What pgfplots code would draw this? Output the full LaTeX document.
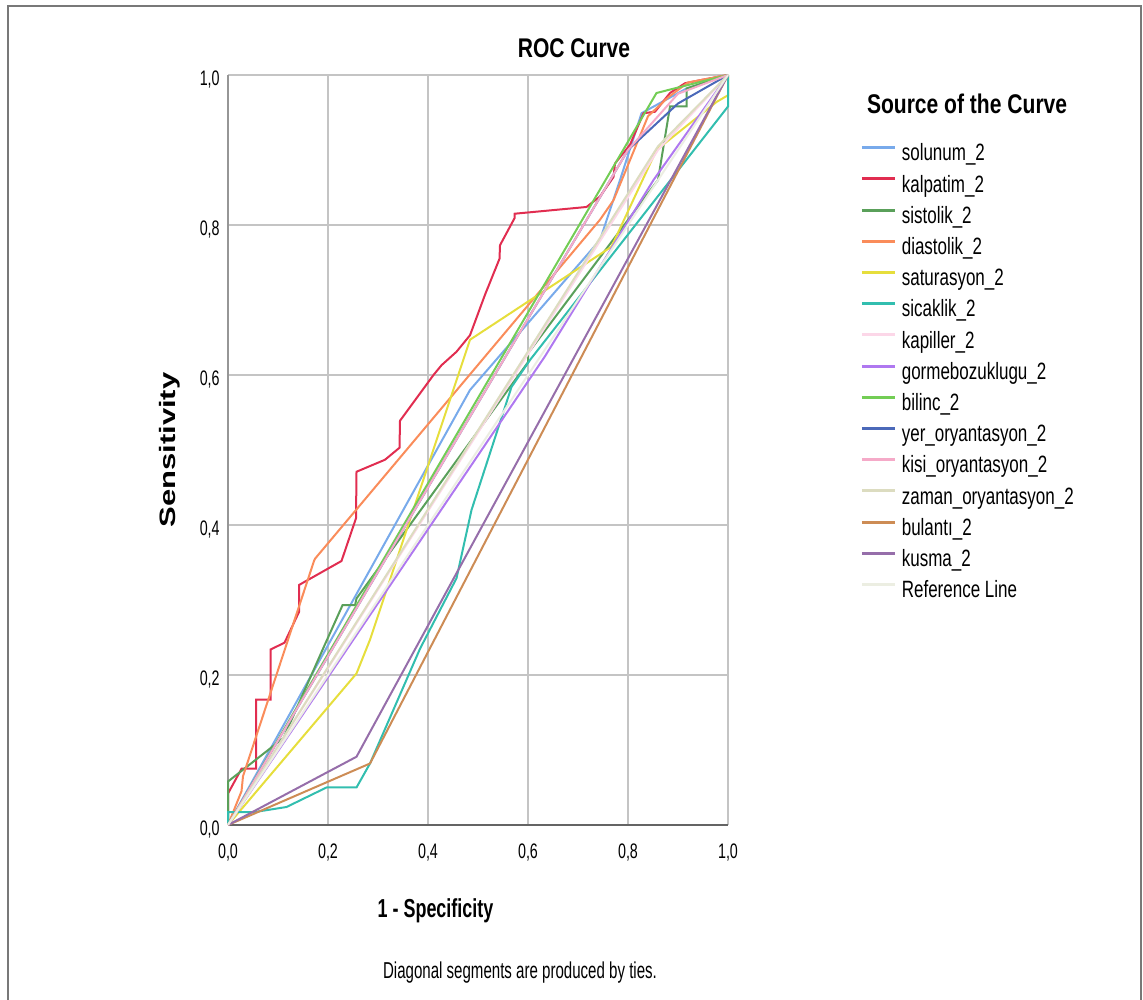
\documentclass[border=0pt]{standalone}
\usepackage{pgfplots}
\pgfplotsset{compat=1.18}
\usepackage{fontspec}
\setmainfont{Liberation Sans}
\usepackage{graphicx}
\newcommand\sq[2]{\scalebox{#1}[1]{#2}}
\newcommand\tl[1]{\scalebox{0.68}[1]{\fontsize{10.5}{12}\selectfont #1}}
\newcommand\lgd[1]{\scalebox{0.72}[1]{#1}}
\definecolor{cSol}{RGB}{120,170,235}
\definecolor{cKal}{RGB}{225,45,80}
\definecolor{cSis}{RGB}{90,160,90}
\definecolor{cDia}{RGB}{250,140,90}
\definecolor{cSat}{RGB}{230,222,60}
\definecolor{cSic}{RGB}{50,190,175}
\definecolor{cKap}{RGB}{252,215,232}
\definecolor{cGor}{RGB}{175,120,240}
\definecolor{cBil}{RGB}{115,205,85}
\definecolor{cYer}{RGB}{75,105,185}
\definecolor{cKis}{RGB}{245,170,200}
\definecolor{cZam}{RGB}{220,220,192}
\definecolor{cBul}{RGB}{205,140,85}
\definecolor{cKus}{RGB}{150,110,170}
\definecolor{cRef}{RGB}{236,238,226}
\definecolor{cGrid}{RGB}{196,196,196}
\begin{document}
\begin{tikzpicture}
\useasboundingbox (0,0) rectangle (571.5pt,499.5pt);
\draw[color={rgb,255:red,120;green,120;blue,120}, line width=0.8pt] (4pt,-10pt) -- (4pt,496.5pt) -- (570.6pt,496.5pt) -- (570.6pt,-10pt);
\begin{axis}[
  at={(114pt,87pt)}, anchor=south west, scale only axis,
  width=250pt, height=375pt,
  xmin=0, xmax=1, ymin=0, ymax=1, clip=false,
  axis x line=bottom, axis y line=left,
  x axis line style={-, draw={rgb,255:red,100;green,100;blue,100}, line width=1pt},
  y axis line style={-, draw={rgb,255:red,150;green,150;blue,150}, line width=0.8pt},
  grid=major, major grid style={draw=cGrid, line width=1pt},
  major tick length=0pt,
  xtick={0,0.2,0.4,0.6,0.8,1}, ytick={0,0.2,0.4,0.6,0.8,1},
  xticklabels={{\tl{0,0}},{\tl{0,2}},{\tl{0,4}},{\tl{0,6}},{\tl{0,8}},{\tl{1,0}}},
  yticklabels={{\tl{0,0}},{\tl{0,2}},{\tl{0,4}},{\tl{0,6}},{\tl{0,8}},{\tl{1,0}}},
  xticklabel style={anchor=north, inner sep=0pt, yshift=-9pt},
  yticklabel style={anchor=east, inner sep=0pt, xshift=-4pt, yshift=-2.5pt},
  every axis plot/.append style={line width=1pt},
  legend style={at={(1.264,0.909)}, anchor=north west, draw=none, fill=none,
    inner sep=0pt, row sep=4.6pt, column sep=2.5pt,
    font=\fontsize{11.8}{14}\selectfont,
    nodes={inner sep=0pt, text height=8.6pt, text depth=2.4pt}},
  legend cell align=left,
  legend image code/.code={\draw[#1, line width=1.5pt] (0pt,3.5pt) -- (16.7pt,3.5pt);},
]
\addplot[cSol] coordinates {(0,0) (0.484,0.58) (0.744,0.78) (0.784,0.86) (0.827,0.949) (0.917,0.982) (1,1)};
\addlegendentry{\lgd{solunum\_2}}
\addplot[cKal] coordinates {(0,0) (0,0.042) (0.027,0.075) (0.056,0.075) (0.056,0.167) (0.085,0.167) (0.085,0.234) (0.113,0.243) (0.142,0.284) (0.142,0.32) (0.227,0.352) (0.256,0.409) (0.257,0.471) (0.314,0.487) (0.343,0.503) (0.344,0.539) (0.411,0.6) (0.427,0.613) (0.457,0.631) (0.484,0.653) (0.514,0.707) (0.543,0.755) (0.544,0.773) (0.573,0.809) (0.573,0.815) (0.717,0.824) (0.744,0.838) (0.771,0.864) (0.774,0.882) (0.804,0.907) (0.831,0.949) (0.854,0.951) (0.884,0.976) (0.914,0.989) (0.944,0.993) (1,1)};
\addlegendentry{\lgd{kalpatim\_2}}
\addplot[cSis] coordinates {(0,0) (0,0.058) (0.111,0.116) (0.19,0.235) (0.229,0.293) (0.254,0.293) (0.257,0.302) (0.6,0.617) (0.6,0.629) (0.86,0.86) (0.884,0.958) (0.917,0.958) (0.917,0.982) (1,1)};
\addlegendentry{\lgd{sistolik\_2}}
\addplot[cDia] coordinates {(0,0) (0.027,0.045) (0.03,0.065) (0.172,0.352) (0.174,0.355) (0.744,0.807) (0.771,0.833) (0.8,0.88) (0.84,0.945) (0.88,0.97) (0.92,0.99) (1,1)};
\addlegendentry{\lgd{diastolik\_2}}
\addplot[cSat] coordinates {(0,0) (0.257,0.202) (0.284,0.247) (0.484,0.647) (0.767,0.771) (0.857,0.9) (0.977,0.964) (1,0.973) (1,1)};
\addlegendentry{\lgd{saturasyon\_2}}
\addplot[cSic] coordinates {(0,0) (0,0.017) (0.051,0.017) (0.117,0.024) (0.197,0.05) (0.257,0.05) (0.284,0.082) (0.384,0.235) (0.457,0.329) (0.487,0.42) (0.567,0.584) (0.604,0.62) (1,0.958) (1,1)};
\addlegendentry{\lgd{sicaklik\_2}}
\addplot[cKap] coordinates {(0,0) (0.86,0.9) (1,1)};
\addlegendentry{\lgd{kapiller\_2}}
\addplot[cGor] coordinates {(0,0) (0.634,0.625) (0.851,0.86) (1,1)};
\addlegendentry{\lgd{gormebozuklugu\_2}}
\addplot[cBil] coordinates {(0,0) (0.857,0.976) (1,1)};
\addlegendentry{\lgd{bilinc\_2}}
\addplot[cYer] coordinates {(0,0) (0.8,0.9) (0.9,0.962) (1,1)};
\addlegendentry{\lgd{yer\_oryantasyon\_2}}
\addplot[cKis] coordinates {(0,0) (0.8,0.9) (0.9,0.975) (1,1)};
\addlegendentry{\lgd{kisi\_oryantasyon\_2}}
\addplot[cZam] coordinates {(0,0) (0.86,0.905) (1,1)};
\addlegendentry{\lgd{zaman\_oryantasyon\_2}}
\addplot[cBul] coordinates {(0,0) (0.284,0.082) (1,1)};
\addlegendentry{\lgd{bulantı\_2}}
\addplot[cKus] coordinates {(0,0) (0.257,0.091) (1,1)};
\addlegendentry{\lgd{kusma\_2}}
\addplot[cRef] coordinates {(0,0) (1,1)};
\addlegendentry{\lgd{Reference Line}}
\end{axis}
\node[anchor=base] at (287pt,470.5pt) {\sq{0.78}{\fontsize{13.5}{16}\selectfont\bfseries ROC Curve}};
\node[anchor=base] at (217.75pt,40.5pt) {\sq{0.69}{\fontsize{13}{16}\selectfont\bfseries 1 - Specificity}};
\node[anchor=base] at (260pt,10pt) {\sq{0.655}{\fontsize{11.5}{14}\selectfont Diagonal segments are produced by ties.}};
\node[rotate=90, anchor=center] at (85pt,274.5pt) {\scalebox{1}[0.72]{\fontsize{15.5}{18}\selectfont\bfseries Sensitivity}};
\node[anchor=base west, inner sep=0pt] at (433.3pt,442.85pt) {\sq{0.78}{\fontsize{13.5}{16}\selectfont\bfseries Source of the Curve}};
\end{tikzpicture}
\end{document}
